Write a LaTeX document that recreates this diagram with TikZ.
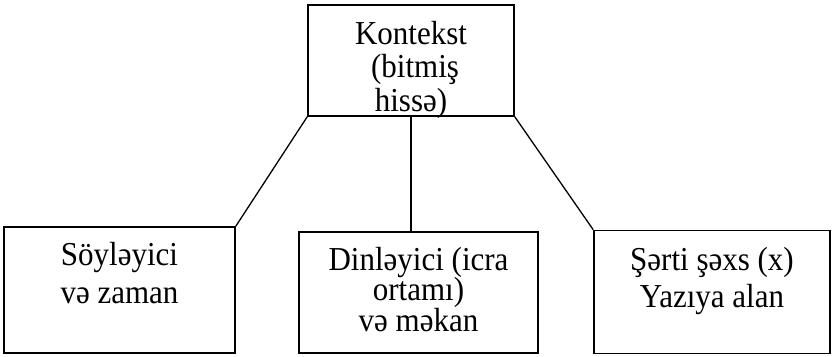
\documentclass[tikz,border=0pt]{standalone}
\usepackage{fontspec}
\usepackage{graphicx}
\setmainfont{Liberation Serif}
\newcommand\tln[1]{\scalebox{1}[1.08]{#1}}
\begin{document}
\begin{tikzpicture}[x=1pt,y=-1pt,
  box/.style={draw=black,line width=1.6pt,rectangle,inner sep=0pt},
  txt/.style={inner sep=0pt,align=center,anchor=north},
  link/.style={draw=black,line width=1.3pt}]
\useasboundingbox (0,0) rectangle (832,356);
% boxes
\node[box,minimum width=206pt,minimum height=111pt] (top) at (411,60.5) {};
\node[box,minimum width=231pt,minimum height=126pt] (left) at (119.5,290) {};
\node[box,minimum width=239pt,minimum height=121pt] (mid) at (418.5,292.5) {};
\node[box,minimum width=236pt,minimum height=123pt] (right) at (712,292) {};
% texts
\node[txt,font={\fontsize{31}{33.5}\selectfont\lineskiplimit=-50pt}] (ttop) at (411,21)
  {\tln{Kontekst}\\\hspace*{8pt}\tln{(bitmiş}\\\tln{hissə)}};
\node[txt,font={\fontsize{31}{38}\selectfont\lineskiplimit=-50pt}] (tleft) at (119.5,242)
  {\tln{Söyləyici}\\\tln{və zaman}};
\node[txt,font={\fontsize{31}{30.5}\selectfont\lineskiplimit=-50pt}] (tmid) at (418.5,247)
  {\tln{Dinləyici (icra}\\\tln{ortamı)}\\\tln{və məkan}};
\node[txt,font={\fontsize{31}{37}\selectfont\lineskiplimit=-50pt}] (tright) at (712,247)
  {\tln{Şərti şəxs (x)}\\\tln{Yazıya alan}};
% connectors
\draw[link] (top.south west) -- (left.north east);
\draw[link] (top.south east) -- (right.north west);
\draw[link] (top.south) -- (top.south |- mid.north);
\end{tikzpicture}
\end{document}
